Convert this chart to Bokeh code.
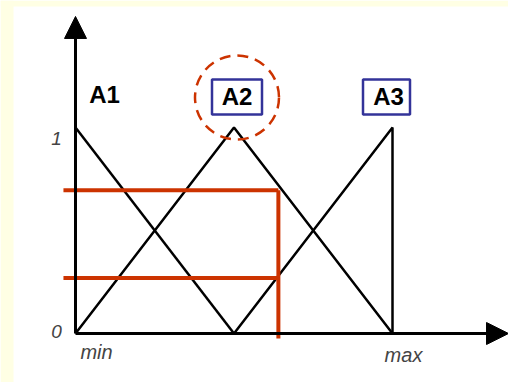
from bokeh.plotting import figure
from bokeh.models import Range1d, Arrow, NormalHead, BoxAnnotation
from bokeh.core.properties import value
from bokeh.embed import file_html
from bokeh.resources import INLINE

# ---- data ----
set_names = ["A1", "A2", "A3"]
set_peaks = [0.0, 0.5, 1.0]
a1_x = [0.0, 0.5]
a1_y = [1.0, 0.0]
a2_x = [0.0, 0.5, 1.0]
a2_y = [0.0, 1.0, 0.0]
a3_x = [0.5, 1.0, 1.0]
a3_y = [0.0, 1.0, 0.0]
y_tick_vals = [0.0, 1.0]
y_tick_labels = ["0", "1"]
x_tick_vals = [0.0, 1.0]
x_tick_labels = ["min", "max"]
crisp_input = 0.64
degrees = [0.695, 0.27]
guide_left = -0.038
guide_bottom = -0.024
x_axis_end = 1.366
y_axis_end = 1.539

BLACK = "#000000"
RED = "#CC3300"
BLUE = "#333399"
YELLOW = "#FFFFE4"
FONT = "Liberation Sans"

PX_X = 317.0  # pixels per x unit
PX_Y = 206.0  # pixels per y unit

p = figure(width=508, height=382, output_backend="svg", toolbar_location=None,
           x_range=Range1d(-75 / PX_X, 433 / PX_X), y_range=Range1d(-49 / PX_Y, 1 + 127 / PX_Y),
           min_border=0)
p.axis.visible = False
p.grid.visible = False
p.outline_line_color = None
p.background_fill_color = "white"
p.border_fill_color = "white"

# yellow slide margins (left and top)
p.add_layout(BoxAnnotation(right=-62 / PX_X, fill_color=YELLOW, fill_alpha=1, line_color=None,
                           level="underlay"))
p.add_layout(BoxAnnotation(bottom=1 + 121 / PX_Y, fill_color=YELLOW, fill_alpha=1, line_color=None,
                           level="underlay"))

# axes with arrow heads
p.add_layout(Arrow(end=NormalHead(size=22, fill_color=BLACK, line_color=BLACK),
                   x_start=0, y_start=0, x_end=x_axis_end, y_end=0,
                   line_color=BLACK, line_width=3))
p.add_layout(Arrow(end=NormalHead(size=22, fill_color=BLACK, line_color=BLACK),
                   x_start=0, y_start=0, x_end=0, y_end=y_axis_end,
                   line_color=BLACK, line_width=3))

# membership functions
for xs, ys in [(a1_x, a1_y), (a2_x, a2_y), (a3_x, a3_y)]:
    p.line(xs, ys, line_color=BLACK, line_width=2.5)

# red guide lines
for d in degrees:
    p.segment(x0=[guide_left], y0=[d], x1=[crisp_input], y1=[d], line_color=RED, line_width=4)
p.segment(x0=[crisp_input], y0=[max(degrees)], x1=[crisp_input], y1=[guide_bottom],
          line_color=RED, line_width=4)

# tick labels
p.text(x=[0, 0], y=y_tick_vals, text=y_tick_labels, x_offset=-19, y_offset=[-2, 11],
       text_font=value(FONT), text_font_style="italic", text_font_size="19px",
       text_color="#444444", text_align="center", text_baseline="middle")
p.text(x=x_tick_vals, y=[0, 0], text=x_tick_labels, x_offset=[21, 11], y_offset=[18, 21],
       text_font=value(FONT), text_font_style="italic", text_font_size="20px",
       text_color="#444444", text_align="center", text_baseline="middle")

# set labels: boxes around A2 and A3
box_dx = [3 / PX_X, -6 / PX_X]
box_x = [set_peaks[1] + box_dx[0], set_peaks[2] + box_dx[1]]
box_y = [1 + 30.5 / PX_Y, 1 + 30.5 / PX_Y]
p.rect(x=box_x, y=box_y, width=[50, 47], height=35, width_units="screen",
       height_units="screen", fill_color="white", line_color=BLUE, line_width=2.5)

label_y = [1.0, 1.0, 1.0]
p.text(x=set_peaks, y=label_y, text=set_names, x_offset=[29, 3, -4], y_offset=[-33, -31, -31],
       text_font=value(FONT), text_font_style="bold", text_font_size="24px",
       text_color=BLACK, text_align="center", text_baseline="middle")

# dashed circle around A2
p.scatter(x=[set_peaks[1] + 3 / PX_X], y=[1 + 30 / PX_Y], marker="circle", size=84,
          fill_color=None, line_color=RED, line_width=2.5, line_dash="11 7")

open("out.html", "w").write(file_html(p, INLINE))
